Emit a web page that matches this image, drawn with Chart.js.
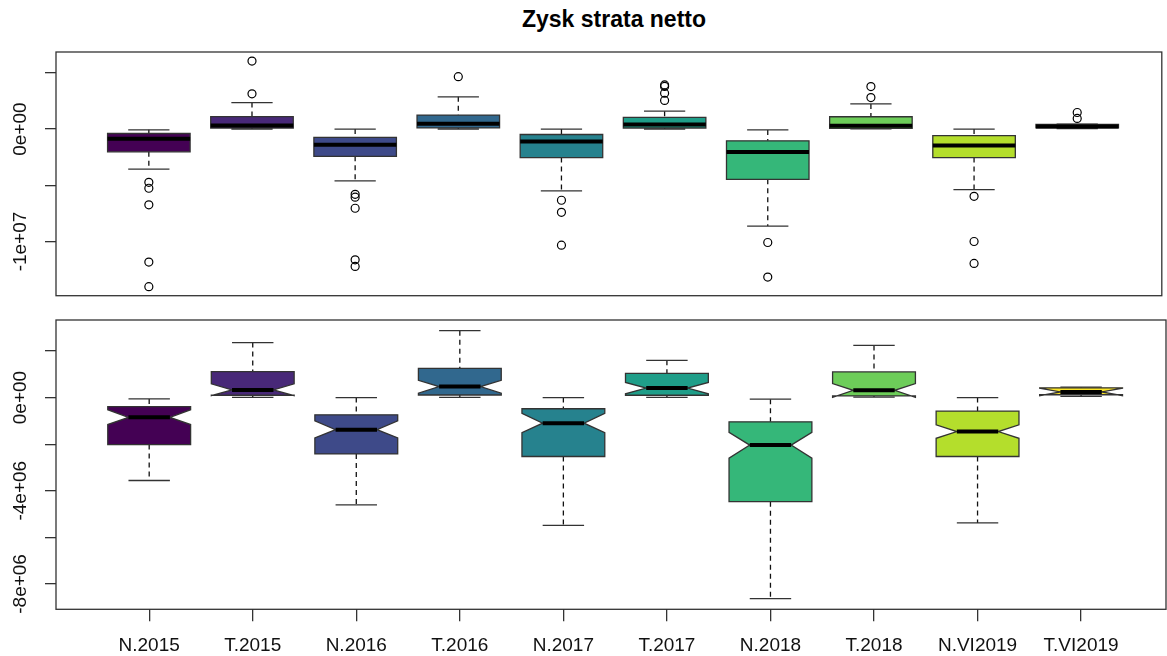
<!DOCTYPE html>
<html><head><meta charset="utf-8">
<script src="https://cdn.jsdelivr.net/npm/chart.js@4.4.1/dist/chart.umd.min.js"></script>
<style>
html,body{margin:0;padding:0;background:#fff;}
#wrap{position:relative;width:1167px;height:656px;overflow:hidden;font-family:"Liberation Sans",Arial,sans-serif;}
#title{position:absolute;left:414px;width:400px;top:5px;text-align:center;font-weight:bold;font-size:23px;line-height:28px;color:#000;}
canvas{position:absolute;left:0;}
</style></head><body>
<div id="wrap">
<div id="title">Zysk strata netto</div>
<canvas id="c1" width="1167" height="310" style="top:0px"></canvas>
<canvas id="c2" width="1167" height="346" style="top:310px"></canvas>
</div>
<script>
const categories = ['N.2015','T.2015','N.2016','T.2016','N.2017','T.2017','N.2018','T.2018','N.VI2019','T.VI2019'];
const colors = ['#440154','#482878','#3E4A89','#31688E','#26828E','#1F9E89','#35B779','#6DCD59','#B4DE2C','#FDE725'];
const whiskerLow  = [-3560000, 10000, -4610000, 10000, -5490000, 10000, -8630000, 20000, -5380000, 50000];
const q1          = [-2020000, 100000, -2420000, 110000, -2530000, 100000, -4470000, 70000, -2530000, 120000];
const median      = [-850000, 330000, -1380000, 470000, -1100000, 410000, -2040000, 310000, -1460000, 240000];
const q3          = [-390000, 1110000, -740000, 1250000, -480000, 1040000, -1040000, 1100000, -580000, 420000];
const whiskerHigh = [-60000, 2360000, 0, 2870000, 0, 1600000, -70000, 2240000, 0, 450000];
const notchLow    = [-1160000, 80000, -1730000, 190000, -1510000, 160000, -2600000, 10000, -1750000, 80000];
const notchHigh   = [-520000, 590000, -1000000, 740000, -680000, 650000, -1490000, 600000, -1170000, 400000];
const outliers = [
  [-4730000, -5260000, -6740000, -11830000, -14020000],
  [3140000, 6060000],
  [-5800000, -6060000, -7040000, -11630000, -12220000],
  [4670000],
  [-6330000, -7400000, -10330000],
  [2550000, 3200000, 3800000, 3930000],
  [-10090000, -13170000],
  [2810000, 3790000],
  [-5980000, -10000000, -11950000],
  [950000, 1480000]
];
const topTicks = [5e6, 0, -5e6, -1e7];
const topTickLabels = ['', '0e+00', '', '-1e+07'];
const bottomTicks = [2e6, 0, -2e6, -4e6, -6e6, -8e6];
const bottomTickLabels = ['', '0e+00', '', '-4e+06', '', '-8e+06'];

function extRange(vals){
  const mn = Math.min(...vals), mx = Math.max(...vals), d = (mx - mn) * 0.04;
  return [mn - d, mx + d];
}
const topRange = extRange([...whiskerLow, ...whiskerHigh, ...outliers.flat()]);
const botRange = extRange([...whiskerLow, ...whiskerHigh]);
const xMin = 0.1, xMax = 10.82;

function boxPlugin(notched){
  return { id: 'boxes', beforeDatasetsDraw(chart){
    const ctx = chart.ctx, xs = chart.scales.x, ys = chart.scales.y;
    const half = 0.4, capHalf = 0.2, nf = 0.5;
    const Y = v => ys.getPixelForValue(v);
    ctx.save();
    categories.forEach((c, i) => {
      const xc = i + 1;
      const L = xs.getPixelForValue(xc - half), R = xs.getPixelForValue(xc + half), C = xs.getPixelForValue(xc);
      const cl = xs.getPixelForValue(xc - capHalf), cr = xs.getPixelForValue(xc + capHalf);
      const nl = xs.getPixelForValue(xc - half * nf), nr = xs.getPixelForValue(xc + half * nf);
      ctx.strokeStyle = '#111'; ctx.lineWidth = 1.3; ctx.setLineDash([5, 4]);
      ctx.beginPath();
      ctx.moveTo(C, Y(whiskerHigh[i])); ctx.lineTo(C, Y(q3[i]));
      ctx.moveTo(C, Y(q1[i])); ctx.lineTo(C, Y(whiskerLow[i]));
      ctx.stroke();
      ctx.setLineDash([]);
      ctx.strokeStyle = '#333';
      ctx.beginPath();
      ctx.moveTo(cl, Y(whiskerHigh[i])); ctx.lineTo(cr, Y(whiskerHigh[i]));
      ctx.moveTo(cl, Y(whiskerLow[i])); ctx.lineTo(cr, Y(whiskerLow[i]));
      ctx.stroke();
      ctx.beginPath();
      if (notched){
        const pts = [[L, q1[i]], [R, q1[i]], [R, notchLow[i]], [nr, median[i]], [R, notchHigh[i]],
                     [R, q3[i]], [L, q3[i]], [L, notchHigh[i]], [nl, median[i]], [L, notchLow[i]]];
        pts.forEach((p, k) => k ? ctx.lineTo(p[0], Y(p[1])) : ctx.moveTo(p[0], Y(p[1])));
        ctx.closePath();
      } else {
        ctx.rect(L, Y(q3[i]), R - L, Y(q1[i]) - Y(q3[i]));
      }
      ctx.fillStyle = colors[i]; ctx.fill();
      ctx.strokeStyle = '#333'; ctx.lineWidth = 1.3; ctx.stroke();
      ctx.strokeStyle = '#000'; ctx.lineWidth = 4; ctx.lineCap = 'butt';
      ctx.beginPath();
      ctx.moveTo(notched ? nl : L, Y(median[i])); ctx.lineTo(notched ? nr : R, Y(median[i]));
      ctx.stroke();
    });
    ctx.restore();
  }};
}

function framePlugin(ticks, labels){
  return { id: 'frame', afterDraw(chart){
    const ctx = chart.ctx, a = chart.chartArea, ys = chart.scales.y;
    ctx.save();
    ctx.strokeStyle = '#333'; ctx.lineWidth = 1.3;
    ctx.strokeRect(a.left, a.top, a.right - a.left, a.bottom - a.top);
    ctx.fillStyle = '#111';
    ctx.font = '19px "Liberation Sans", Arial, sans-serif';
    ctx.textAlign = 'center'; ctx.textBaseline = 'middle';
    ticks.forEach((v, k) => {
      if (!labels[k]) return;
      ctx.save();
      ctx.translate(21, ys.getPixelForValue(v));
      ctx.rotate(-Math.PI / 2);
      ctx.fillText(labels[k], 0, 0);
      ctx.restore();
    });
    ctx.restore();
  }};
}

const gridOpts = { drawOnChartArea: false, drawTicks: true, tickLength: 11, color: '#333', lineWidth: 1.3 };

new Chart(document.getElementById('c1'), {
  type: 'scatter',
  data: { datasets: [{
    data: outliers.flatMap((arr, i) => arr.map(v => ({ x: i + 1, y: v }))),
    pointStyle: 'circle', pointRadius: 4, pointBorderWidth: 1.2,
    pointBorderColor: '#000', pointBackgroundColor: 'rgba(0,0,0,0)', showLine: false
  }]},
  options: {
    responsive: false, animation: false,
    layout: { padding: { left: 0, right: 1, top: 52, bottom: 14.3 } },
    plugins: { legend: { display: false }, tooltip: { enabled: false }, title: { display: false } },
    scales: {
      x: { type: 'linear', min: xMin, max: xMax, display: false },
      y: { type: 'linear', min: topRange[0], max: topRange[1],
           afterBuildTicks: s => { s.ticks = topTicks.map(v => ({ value: v })); },
           afterFit: s => { s.width = 56; },
           ticks: { display: false }, grid: gridOpts, border: { display: false } }
    }
  },
  plugins: [boxPlugin(false), framePlugin(topTicks, topTickLabels)]
});

new Chart(document.getElementById('c2'), {
  type: 'scatter',
  data: { datasets: [{ data: [], pointRadius: 0 }] },
  options: {
    responsive: false, animation: false,
    layout: { padding: { left: 0, right: 1, top: 10, bottom: 0 } },
    plugins: { legend: { display: false }, tooltip: { enabled: false }, title: { display: false } },
    scales: {
      x: { type: 'linear', min: xMin, max: xMax,
           afterBuildTicks: s => { s.ticks = categories.map((c, i) => ({ value: i + 1 })); },
           afterFit: s => { s.height = 46.7; },
           ticks: { callback: v => categories[v - 1], color: '#111', padding: 13, maxRotation: 0, minRotation: 0, autoSkip: false,
                    font: { size: 19, family: '"Liberation Sans", Arial, sans-serif' } },
           grid: Object.assign({}, gridOpts, { tickLength: 12 }), border: { display: false } },
      y: { type: 'linear', min: botRange[0], max: botRange[1],
           afterBuildTicks: s => { s.ticks = bottomTicks.map(v => ({ value: v })); },
           afterFit: s => { s.width = 56; },
           ticks: { display: false }, grid: gridOpts, border: { display: false } }
    }
  },
  plugins: [boxPlugin(true), framePlugin(bottomTicks, bottomTickLabels)]
});
</script>
</body></html>
